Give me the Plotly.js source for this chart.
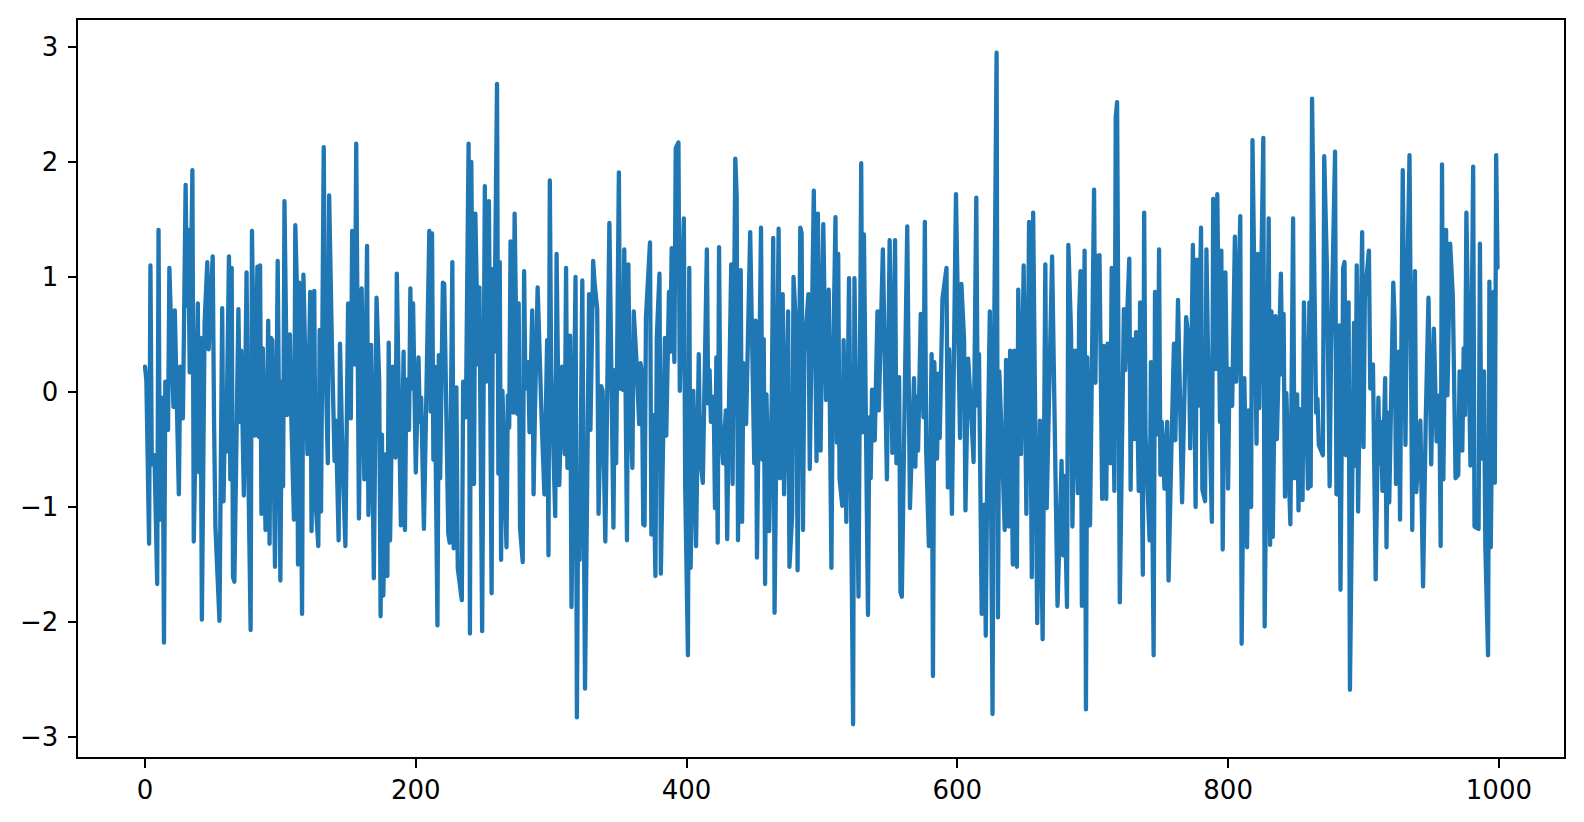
<!DOCTYPE html>
<html>
<head>
<meta charset="utf-8">
<script src="https://cdn.plot.ly/plotly-3.0.1.min.js"></script>
<style>
html,body{margin:0;padding:0;background:#fff;}
#chart{width:1584px;height:822px;}
.js-line{stroke-linejoin:round !important;stroke-linecap:round !important;}
</style>
</head>
<body>
<div id="chart"></div>
<script>
// Sample positions and values, segment by segment.
const xA = [0,1,3,4,5,7,9,10,11,13,14,15,17,18,21,22,25,26,28,30,31,32,33,35,36,39,40,41,42,44,46,47,50,51,52,55,57,58,59,60,62,63,64,65,66,69,70,71,73,75,76,78,79,81,83,84,85,86,87,89,91,92,93,94,96,98,100,101,102,103,105,107,108,110,111,112,113,114,116,117,119,120,122,123,125,126,128,129,130,132,133,135,136,138,140,141,143,144,146,148,150,152,153,155,156,158,160,162,164,165,167,169,171,173,174,175,176,178,179,180,181,183,185,186,189,191,192,193,195,196,197,198];
const yA = [0.22,0.1,-1.32,1.10,-0.63,-0.55,-1.67,1.41,-1.11,-0.05,-2.18,0.09,-0.33,1.08,-0.13,0.71,-0.89,0.22,-0.23,1.80,0.75,1.41,0.17,1.93,-1.30,0.77,-0.70,0.47,-1.98,0.60,1.13,0.37,1.18,-0.26,-1.17,-1.99,0.73,-0.95,-0.22,-0.52,1.18,-0.76,1.08,-1.61,-1.65,0.72,-0.26,0.36,-0.90,1.04,-0.40,-2.07,1.40,-0.38,1.09,-0.39,1.10,-1.06,0.38,-1.20,0.62,-1.32,0.47,0.45,-1.52,1.14,-1.64,0.09,-0.82,1.66,-0.20,0.50,-0.20,-1.11,1.45,1.00,-1.50,0.95,-1.93,1.02,-0.05,-0.54,0.87,-1.21,0.88,-0.96,-1.34,0.54,-1.04,2.13,0.45,-0.62,1.71,0.44,-0.60,-0.25,-1.29,0.42,-0.64,-1.34,0.77,-0.23,1.40,0.24,2.16,-1.10,0.90,-0.76,1.27,-1.07,0.41,-1.62,0.82,0.09,-1.95,-0.37,-1.77,-0.54,-1.60,0.43,-1.29,0.22,-0.57,1.03,-1.16,0.35,-1.20,0.11,-0.33,0.90,0.03,0.77];
const xB = [200,202,203,204,206,210,211,212,213,214,216,217,218,220,221,224,225,227,228,230,231,234,235,237,239,240,241,243,244,246,247,249,251,252,254,256,257,258,260,261,262,263,264,267,268,269,270,272,273,275,276,277,279,280,281,283,284,286,287,288,290,293,295,297,298,299,300,303,304,306,308,310,311,312,314,315,318,319,320,321,323,325,327,328,329,331,332,334,335,337,338,340,343,346,347,348,350,351,353,354,356,357,358,360,361,363,365,366,367,368,369,370,373,374,375,377,378,380,381,384,385,387,388,389,391,392,394,395,398,399];
const yB = [-0.70,0.30,-0.26,-0.05,-1.19,1.40,-0.17,1.38,-0.59,0.22,-2.03,0.32,-0.75,0.95,0.94,-1.23,-1.31,1.13,-1.36,0.04,-1.53,-1.81,0.09,-0.22,2.16,-2.10,2.00,-0.80,1.55,0.24,0.91,-2.08,1.79,0.09,1.66,-1.75,1.07,0.35,2.68,-0.71,1.13,-1.46,0.01,-1.35,-0.03,-0.31,1.31,-0.18,1.55,-0.19,0.77,-1.18,-1.48,1.05,0.03,0.26,-0.35,0.71,-0.89,-0.18,0.91,-0.26,-0.89,0.45,-1.42,1.84,0.18,-1.08,1.20,-0.81,0.22,-0.54,1.08,-0.66,0.49,-1.87,1.00,-2.83,-0.77,-1.46,0.97,-2.58,-0.35,0.85,-0.33,1.14,0.96,0.72,-1.06,0.05,0.01,-1.30,1.47,-1.18,0.19,-0.62,1.91,0.03,0.02,1.24,-1.29,1.11,0.03,-0.66,0.70,0.27,-0.28,0.25,0.17,-1.15,-1.16,0.65,1.30,-1.24,-0.20,-1.60,0.47,1.03,-1.58,0.47,-0.38,0.87,0.35,1.25,0.26,2.12,2.17,0.01,1.51,-0.83];
const xC = [401,402,403,405,407,409,410,412,415,416,417,418,420,421,422,423,424,425,427,429,430,431,433,434,436,437,438,440,441,442,444,447,450,451,452,455,456,457,458,459,461,463,464,465,468,469,471,472,475,476,478,479,481,482,484,485,486,487,490,491,494,496,497,499,501,503,505,507,508,510,511,512,513,515,516,518,520,523,524,527,529,530,531,534,535,536,537,539,541,542,545,548,550,552,554,555,557,558,559,563,565,568,569,570,571,573,575,576,577,579,581,582,583,585,586,587,589,592,593,594,596,599];
const yC = [-2.29,1.08,-1.53,0.01,-1.34,0.33,-0.56,-0.79,1.24,-0.10,0.19,-0.26,-0.04,-1.01,0.30,-1.31,1.26,-0.26,-0.62,-0.16,-1.28,-0.35,1.11,-0.80,2.03,1.71,-1.29,1.06,-1.13,0.25,-0.28,1.39,-0.62,0.62,-1.44,1.43,-0.59,0.46,-1.67,-0.02,-1.21,-0.01,1.34,-1.92,1.42,-0.75,0.85,-0.89,0.70,-1.52,-1.07,1.00,0.53,-1.55,1.43,1.38,-1.20,0.35,0.85,-0.67,1.75,-0.60,1.55,-0.51,1.46,-0.07,0.89,-1.53,0.08,1.52,-0.44,1.20,-0.75,-0.99,0.45,-1.13,0.99,-2.89,0.99,-1.78,1.99,-0.35,1.37,-1.94,-0.22,-0.75,0.02,-0.42,0.70,-0.16,1.24,-0.76,1.32,-0.53,1.32,-0.62,0.13,-1.74,-1.78,1.44,-1.01,0.12,-0.65,-0.04,-0.51,0.68,-0.22,1.48,-0.52,-1.34,0.33,-2.47,0.26,-0.58,0.16,-0.40,0.81,1.08,-0.83,0.37,-1.06,1.72];
const xD = [602,603,605,606,608,610,612,614,615,616,618,620,621,622,624,626,627,629,630,631,633,635,636,638,639,641,642,644,645,647,649,651,653,655,656,659,661,663,665,666,670,674,677,678,679,681,682,684,685,687,689,690,691,692,694,695,696,698,701,702,703,705,707,708,710,711,713,714,716,717,718,720,723,724,727,728,729,731,732,734,735,737,738,739,742,743,745,746,748,749,750,751,753,755,756,758,760,761,763,766,769,771,772,774,776,777,778,780,781,783,784,785,788,789,791,792,794,795,796,798,800];
const yD = [-0.40,0.94,0.45,-1.03,0.29,-0.12,-0.61,1.69,-0.12,0.33,-1.93,-0.98,-2.12,-0.83,0.70,-2.80,0.18,2.95,-1.96,0.18,-0.47,-1.20,0.28,-1.17,0.36,-1.50,0.36,-1.52,0.89,-0.54,1.10,-1.06,1.48,-1.61,1.56,-2.01,-0.25,-2.15,1.11,-1.01,1.18,-1.86,-0.60,-1.42,-0.73,-1.87,1.28,0.52,-1.17,0.36,-0.88,0.70,1.05,-1.86,1.23,-2.76,0.30,-1.16,1.76,0.08,1.18,1.19,-0.93,0.40,-0.93,0.42,-0.62,1.08,-0.86,2.39,2.52,-1.83,0.72,0.19,1.16,-0.85,0.46,-0.41,0.52,-0.86,0.78,-1.59,1.56,-0.37,-1.29,0.26,-2.29,0.87,-0.37,1.24,-0.72,-0.26,-0.84,-0.26,-1.64,-0.56,0.42,-0.42,0.80,-0.96,0.65,0.44,-0.49,1.28,-1.00,1.15,-0.12,1.43,-0.85,-0.95,1.24,0.45,-1.13,1.68,0.20,1.72,-0.26,1.23,-1.37,1.04,-0.84];
const xE = [801,803,805,806,809,810,812,814,815,817,818,821,822,823,826,827,830,831,832,833,835,836,839,840,841,842,843,846,848,849,851,852,853,855,856,859,860,861,862,865,866,867,870,871,873,875,876,879,880,882,883,885,886,887,889,890,893,894,895,896,899,900,901,904,905,907,909,911,912,913,914,916,917,918,919,922,923,924,926,927,929,931,932,934,936,938,939,942,944,946,948,950,952,954,956,957,958,959,961,962,964,966,968,970,971,973,974,975,976,979,981,982,985,986,987,989,990,992,993,994,996,997,998,999];
const yE = [0.20,-0.12,1.35,0.09,1.53,-2.19,0.12,-1.35,-0.16,-1.00,2.19,-0.45,1.20,-0.14,2.21,-2.04,1.51,-1.33,0.70,-1.26,0.66,-0.41,1.03,0.15,0.68,-0.91,-0.01,-1.15,1.51,-0.75,-0.02,-1.03,-0.15,-0.94,0.78,-0.84,0.78,-0.82,2.55,-0.18,-0.06,-0.46,-0.55,2.05,1.07,-0.82,0.33,2.09,-0.89,0.58,-1.72,1.08,1.13,-0.55,0.78,-2.59,0.60,-0.64,1.10,-1.04,1.39,-0.48,0.83,1.23,0.03,0.24,-1.63,-0.05,-0.62,-0.26,-0.86,0.12,-1.35,-0.18,-0.96,0.95,0.62,-0.80,0.35,-1.11,1.93,-0.46,0.73,2.06,-1.20,1.05,-0.87,-0.25,-1.69,-0.23,0.82,-0.63,0.55,-0.43,-0.03,-1.34,1.98,-0.76,1.41,-0.03,1.29,0.83,-0.75,-0.72,0.18,-0.51,0.38,-0.20,1.56,-0.64,1.96,-1.17,-1.19,1.29,-0.58,0.18,-1.35,-2.29,0.96,-1.35,0.87,-0.79,2.06,1.08];

const xValues = [].concat(xA, xB, xC, xD, xE);
const yValues = [].concat(yA, yB, yC, yD, yE);
const xTickValues = [0,200,400,600,800,1000];
const yTickValues = [-3,-2,-1,0,1,2,3];

const axisCommon = {
  showgrid:false, zeroline:false, showline:true, mirror:true,
  linecolor:'#000', linewidth:2,
  ticks:'outside', ticklen:8.5, tickwidth:2, tickcolor:'#000',
  tickfont:{family:'"DejaVu Sans", sans-serif', size:26, color:'#000'},
  tickmode:'array'
};

Plotly.newPlot('chart', [{
  type:'scatter', mode:'lines',
  x:xValues, y:yValues,
  line:{color:'#1f77b4', width:4.3, simplify:false},
  hoverinfo:'skip'
}], {
  width:1584, height:822,
  margin:{l:78, r:20, t:20, b:65, pad:0},
  paper_bgcolor:'#fff', plot_bgcolor:'#fff',
  showlegend:false,
  xaxis:Object.assign({}, axisCommon, {range:[-49.5,1048.1], tickvals:xTickValues, ticktext:xTickValues.map(String)}),
  yaxis:Object.assign({}, axisCommon, {range:[-3.174,3.235], tickvals:yTickValues, ticktext:yTickValues.map(v=>String(v).replace('-','\u2212')), ticklabelstandoff:4})
}, {displayModeBar:false, staticPlot:true});
</script>
</body>
</html>
